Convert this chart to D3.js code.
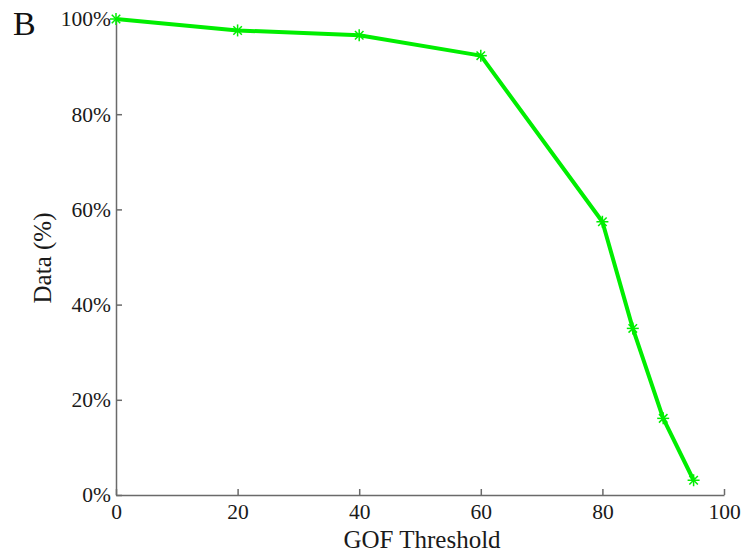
<!DOCTYPE html>
<html>
<head>
<meta charset="utf-8">
<script src="https://cdn.jsdelivr.net/npm/d3@7"></script>
<style>
  body { margin: 0; background: #fff; }
  .axis text { font-family: "Liberation Serif", serif; font-size: 21.5px; fill: #1a1a1a; }
  .axis path, .axis line { stroke: #6a6a6a; stroke-width: 1.5; }
</style>
</head>
<body>
<div class="container"></div>
<script>
const WIDTH = 747;
const HEIGHT = 555;
const LEFT = 116, RIGHT = 724, TOP = 19, BOTTOM = 495;

// data
var thresholds = [0, 20, 40, 60, 80, 85, 90, 95];
var dataPct = [100, 97.6, 96.6, 92.3, 57.4, 35.0, 16.1, 3.1];
var xTicks = [0, 20, 40, 60, 80, 100];
var yTicks = [0, 20, 40, 60, 80, 100];

var xScale = d3.scaleLinear().domain([0, 100]).range([LEFT, RIGHT]);
var yScale = d3.scaleLinear().domain([0, 100]).range([BOTTOM, TOP]);

var svg = d3.select('.container').append('svg')
    .attr('width', WIDTH)
    .attr('height', HEIGHT);

var xAxis = d3.axisBottom(xScale).tickValues(xTicks)
    .tickSizeInner(-6).tickSizeOuter(0).tickPadding(9);
var yAxis = d3.axisLeft(yScale).tickValues(yTicks)
    .tickSizeInner(-6).tickSizeOuter(0).tickPadding(5)
    .tickFormat(function (d) { return d + '%'; });

svg.append('g').attr('class', 'axis')
    .attr('transform', 'translate(0,' + BOTTOM + ')')
    .call(xAxis);
svg.append('g').attr('class', 'axis')
    .attr('transform', 'translate(' + LEFT + ',0)')
    .call(yAxis);

var pts = thresholds.map(function (t, i) { return [t, dataPct[i]]; });

var line = d3.line()
    .x(function (d) { return xScale(d[0]); })
    .y(function (d) { return yScale(d[1]); });

svg.append('path')
    .attr('d', line(pts))
    .attr('fill', 'none')
    .attr('stroke', '#00ee00')
    .attr('stroke-width', 4)
    .attr('stroke-linejoin', 'round');

// asterisk markers
var star = svg.append('g').selectAll('g').data(pts).enter().append('g')
    .attr('transform', function (d) { return 'translate(' + xScale(d[0]) + ',' + yScale(d[1]) + ')'; });
[0, 45, 90, 135].forEach(function (a) {
    star.append('line')
        .attr('x1', -6).attr('x2', 6).attr('y1', 0).attr('y2', 0)
        .attr('transform', 'rotate(' + a + ')')
        .attr('stroke', '#00ee00').attr('stroke-width', 1.5);
});

svg.append('text')
    .attr('x', 422).attr('y', 548)
    .attr('text-anchor', 'middle')
    .style('font-family', '"Liberation Serif", serif').style('font-size', '25px')
    .attr('fill', '#1a1a1a')
    .text('GOF Threshold');

svg.append('text')
    .attr('transform', 'translate(51,258) rotate(-90)')
    .attr('text-anchor', 'middle')
    .style('font-family', '"Liberation Serif", serif').style('font-size', '25px')
    .attr('fill', '#1a1a1a')
    .text('Data (%)');

svg.append('text')
    .attr('x', 13).attr('y', 35)
    .style('font-family', '"Liberation Serif", serif').style('font-size', '34px')
    .attr('fill', '#111')
    .text('B');
</script>
</body>
</html>
